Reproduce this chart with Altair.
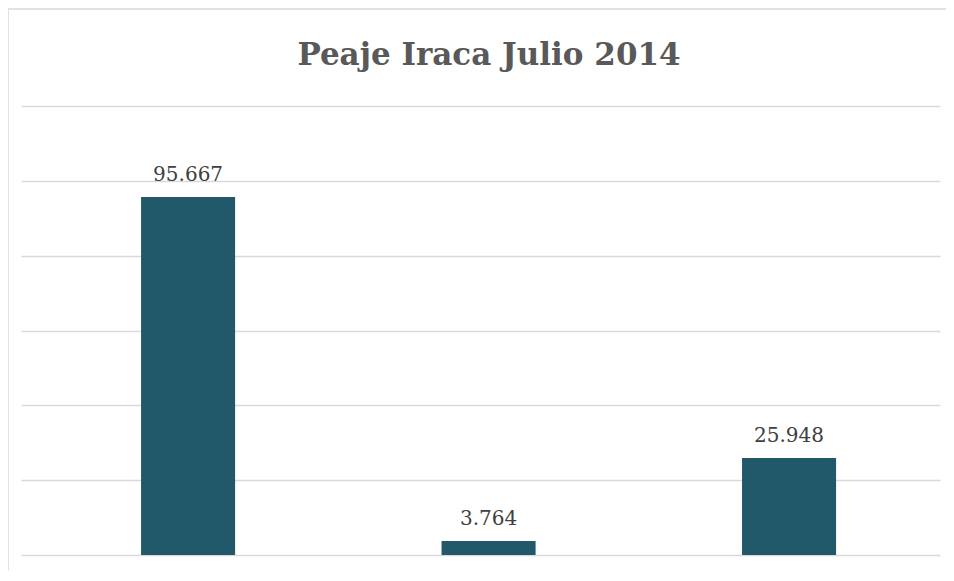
import altair as alt
import pandas as pd

categorias = ["Categoría 1", "Categoría 2", "Categoría 3"]
valores = [95667, 3764, 25948]
etiquetas = ["95.667", "3.764", "25.948"]
titulo = "Peaje Iraca Julio 2014"

df = pd.DataFrame({"cat": categorias, "val": valores, "lab": etiquetas})

x = alt.X("cat:N", sort=categorias, title=None,
          axis=None,
          scale=alt.Scale(paddingInner=0.687, paddingOuter=0.3727, align=0.536))
y = alt.Y("val:Q", title=None,
          scale=alt.Scale(domain=[0, 120000], nice=False),
          axis=alt.Axis(values=[0, 20000, 40000, 60000, 80000, 100000, 120000],
                        labels=False, ticks=False, domain=False, grid=True,
                        gridColor="#d9d9d9", gridWidth=1.4))

bars = alt.Chart(df).mark_bar(color="#22596a").encode(x=x, y=y)
texts = alt.Chart(df).mark_text(font="DejaVu Serif", fontSize=20, color="#404040",
                                baseline="alphabetic", dy=-16).encode(x=x, y=y, text="lab:N")

frame_data = alt.Data(values=[{"t": titulo}])
top_line = alt.Chart(frame_data).mark_rule(color="#d9d9d9", strokeWidth=1.5).encode(
    x=alt.value(-13), x2=alt.value(930), y=alt.value(-97))
left_line = alt.Chart(frame_data).mark_rule(color="#d9d9d9", strokeWidth=1.5).encode(
    x=alt.value(-13), y=alt.value(-97), y2=alt.value(470))
title_text = alt.Chart(frame_data).mark_text(
    font="DejaVu Serif", fontSize=31, fontWeight="bold", color="#595959",
    align="center", baseline="alphabetic").encode(
    x=alt.value(468), y=alt.value(-41), text="t:N")

chart = alt.layer(bars, texts, top_line, left_line, title_text).properties(
    width=919, height=449,
    autosize=alt.AutoSizeParams(type="none"),
    padding={"left": 13, "top": 98, "right": 6, "bottom": 16},
).configure(background="white").configure_view(strokeWidth=0)

chart.save("out.html", embed_options={"renderer": "svg", "actions": False})
